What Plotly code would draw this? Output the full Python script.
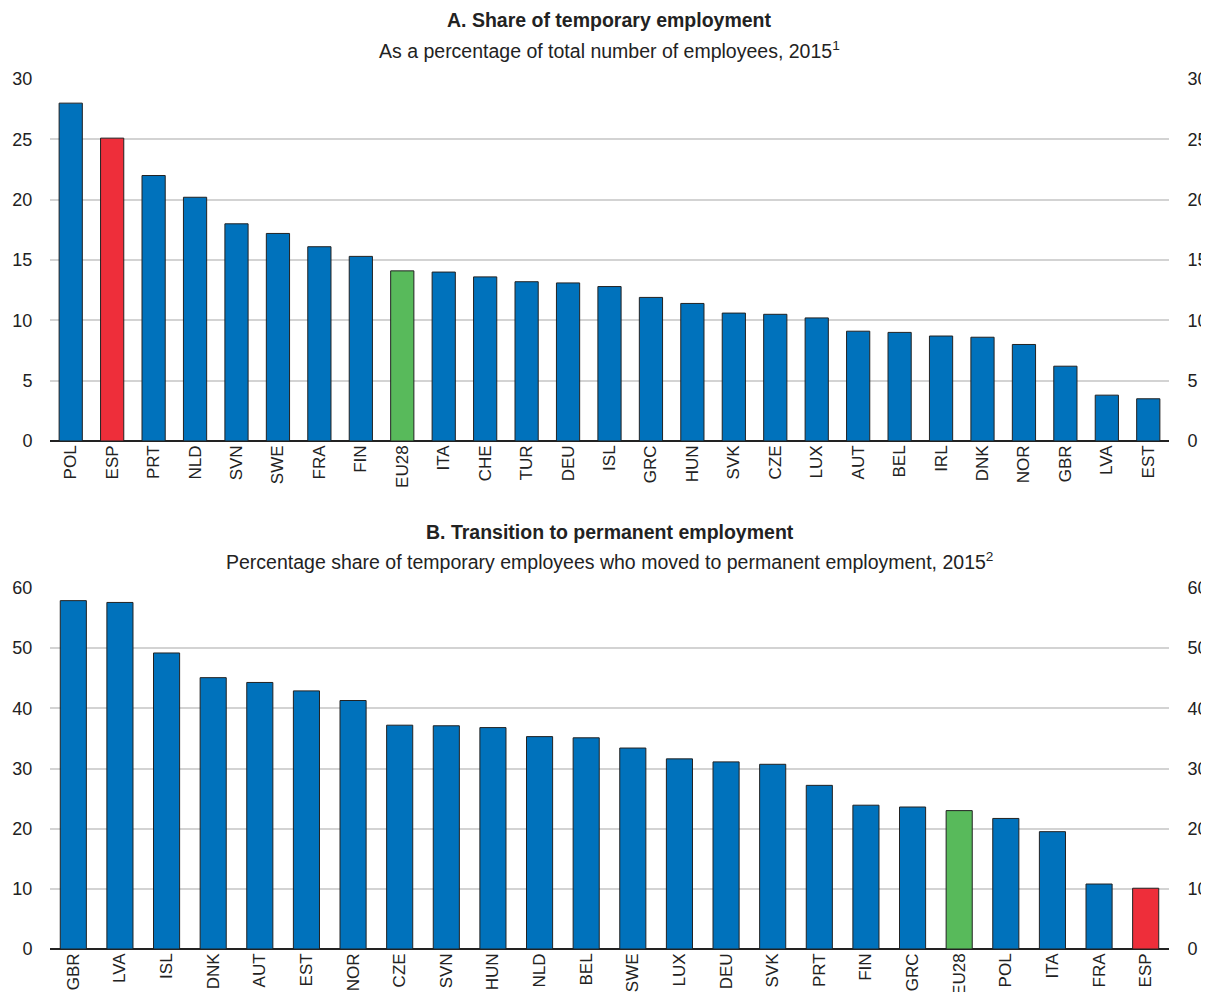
import plotly.graph_objects as go

# Panel A data
cats_a = ["POL", "ESP", "PRT", "NLD", "SVN", "SWE", "FRA", "FIN", "EU28", "ITA", "CHE", "TUR", "DEU",
          "ISL", "GRC", "HUN", "SVK", "CZE", "LUX", "AUT", "BEL", "IRL", "DNK", "NOR", "GBR", "LVA", "EST"]
vals_a = [28.0, 25.1, 22.0, 20.2, 18.0, 17.2, 16.1, 15.3, 14.1, 14.0, 13.6, 13.2, 13.1,
          12.8, 11.9, 11.4, 10.6, 10.5, 10.2, 9.1, 9.0, 8.7, 8.6, 8.0, 6.2, 3.8, 3.5]

# Panel B data
cats_b = ["GBR", "LVA", "ISL", "DNK", "AUT", "EST", "NOR", "CZE", "SVN", "HUN", "NLD", "BEL",
          "SWE", "LUX", "DEU", "SVK", "PRT", "FIN", "GRC", "EU28", "POL", "ITA", "FRA", "ESP"]
vals_b = [57.9, 57.6, 49.2, 45.1, 44.3, 42.9, 41.3, 37.2, 37.1, 36.8, 35.3, 35.1,
          33.4, 31.6, 31.1, 30.7, 27.2, 23.9, 23.6, 23.0, 21.7, 19.5, 10.8, 10.1]

ticks_a = [0, 5, 10, 15, 20, 25, 30]
ticks_b = [0, 10, 20, 30, 40, 50, 60]

BLUE = "#0072BC"
RED = "#EE2E3A"
GREEN = "#58BA5B"
FONT = "Liberation Sans, Arial, sans-serif"
TXT = "#222222"


def colour(c):
    if c == "ESP":
        return RED
    if c == "EU28":
        return GREEN
    return BLUE


# page body has an 8px margin, so the figure is laid out 8px smaller
OFF = 8
W, H = 1209 - OFF, 992 - OFF


def py(v):
    return 1 - (v - OFF) / H


fig = go.Figure()

fig.add_trace(go.Bar(x=cats_a, y=vals_a, marker=dict(color=[colour(c) for c in cats_a],
                     line=dict(color="#222222", width=1)), xaxis="x", yaxis="y", showlegend=False))
fig.add_trace(go.Bar(x=cats_b, y=vals_b, marker=dict(color=[colour(c) for c in cats_b],
                     line=dict(color="#222222", width=1)), xaxis="x2", yaxis="y3", showlegend=False))
fig.add_trace(go.Scatter(x=cats_a, y=vals_a, mode="none", xaxis="x", yaxis="y2",
                         showlegend=False, hoverinfo="skip"))
fig.add_trace(go.Scatter(x=cats_b, y=vals_b, mode="none", xaxis="x2", yaxis="y4",
                         showlegend=False, hoverinfo="skip"))

dom_a = [py(441), py(79)]
dom_b = [py(949), py(588)]

xcommon = dict(tickangle=-90, tickfont=dict(family=FONT, size=17, color=TXT),
               showline=False, showgrid=False, ticks="", automargin=False, fixedrange=True)
ycommon = dict(tickfont=dict(family=FONT, size=18, color=TXT), showgrid=True,
               gridcolor="#D3D3D3", gridwidth=2, zeroline=True, zerolinecolor="#222222",
               zerolinewidth=2, showline=False, ticks="outside", ticklen=13,
               tickcolor="rgba(0,0,0,0)", automargin=False, fixedrange=True)
yright = dict(tickfont=dict(family=FONT, size=18, color=TXT), showgrid=False,
              zeroline=False, ticks="outside", ticklen=14, tickcolor="rgba(0,0,0,0)",
              automargin=False, side="right", fixedrange=True)

fig.update_layout(
    width=W, height=H,
    margin=dict(l=50 - OFF, r=1209 - 1169, t=0, b=0),
    paper_bgcolor="white", plot_bgcolor="white",
    bargap=0.44,
    template="none",
    font=dict(family=FONT, color=TXT),
    xaxis=dict(domain=[0, 1], anchor="y", categoryorder="array", categoryarray=cats_a, **xcommon),
    yaxis=dict(domain=dom_a, range=[0, 30], tickvals=ticks_a, anchor="x", **ycommon),
    yaxis2=dict(domain=dom_a, range=[0, 30], tickvals=ticks_a, overlaying="y", anchor="x", **yright),
    xaxis2=dict(domain=[0, 1], anchor="y3", categoryorder="array", categoryarray=cats_b, **xcommon),
    yaxis3=dict(domain=dom_b, range=[0, 60], tickvals=ticks_b, anchor="x2", **ycommon),
    yaxis4=dict(domain=dom_b, range=[0, 60], tickvals=ticks_b, overlaying="y3", anchor="x2", **yright),
)

annos = [
    ("<b>A. Share of temporary employment</b>", 20),
    ("As a percentage of total number of employees, 2015<sup>1</sup>", 50),
    ("<b>B. Transition to permanent employment</b>", 532),
    ("Percentage share of temporary employees who moved to permanent employment, 2015<sup>2</sup>", 561),
]
for text, ypix in annos:
    fig.add_annotation(text=text, xref="paper", yref="paper", x=0.5, y=py(ypix),
                       xanchor="center", yanchor="middle", showarrow=False,
                       font=dict(family=FONT, size=19.5, color=TXT))

fig.write_html("out.html")
